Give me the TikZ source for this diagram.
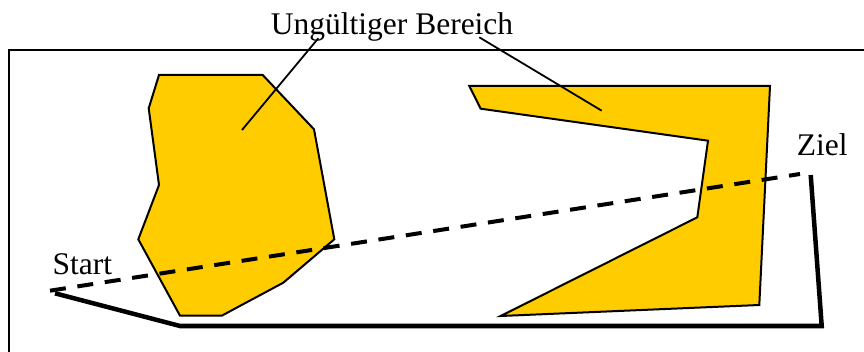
\documentclass[tikz,border=0pt]{standalone}
\usepackage{fontspec}
\setmainfont{Liberation Serif}
\definecolor{zone}{RGB}{255,204,0}
\tikzset{
  zonebox/.style={draw=black, line width=2pt, fill=zone, line join=miter},
  leader/.style={draw=black, line width=1.8pt},
  lbl/.style={inner sep=0pt, font=\fontsize{31.5}{36}\selectfont},
  direct/.style={draw=black, line width=4pt, dash pattern=on 16pt off 11.7pt},
  detour/.style={draw=black, line width=4.5pt, line join=miter},
}
\begin{document}
\begin{tikzpicture}[x=1pt,y=-1pt]
\useasboundingbox (0,0) rectangle (864,352);
\clip (0,0) rectangle (864,352);
\fill[white] (0,0) rectangle (864,352);
% frame
\draw[line width=2pt] (9,360) -- (9,50) -- (870,50);
% obstacles
\draw[zonebox] (159,75) -- (262.7,75) -- (314,129.3) -- (334.3,239.3) -- (283.3,282.7) -- (221.7,315.7) -- (180,315.7) -- (138.3,239.3) -- (159,185) -- (148.7,108.3) -- cycle;
\draw[zonebox] (469.3,86) -- (770,86) -- (759.3,305) -- (500.7,316) -- (697.3,217.3) -- (708,140.7) -- (480.7,108.7) -- cycle;
% labels
\node[lbl, anchor=base west] (title) at (270.7,35) {Ungültiger Bereich};
\node[lbl, anchor=base west] (startlbl) at (52.5,275) {Start};
\node[lbl, anchor=base west] (ziellbl) at (796.7,155.7) {Ziel};
% leader lines
\coordinate (p1) at (242,130);
\coordinate (t1) at (318.3,38.3);
\coordinate (p2) at (601.7,110.7);
\coordinate (t2) at (479.3,37.3);
\draw[leader] (p1) -- (t1);
\draw[leader] (p2) -- (t2);
% paths
\coordinate (s) at (50,290.7);
\coordinate (z) at (800,174);
\draw[direct] (s) -- (z);
\coordinate (s2) at (55,293.3);
\coordinate (b1) at (180,326);
\coordinate (b2) at (821.7,326);
\coordinate (z2) at (810.7,175);
\draw[detour] (s2) -- (b1) -- (b2) -- (z2);
\end{tikzpicture}
\end{document}
